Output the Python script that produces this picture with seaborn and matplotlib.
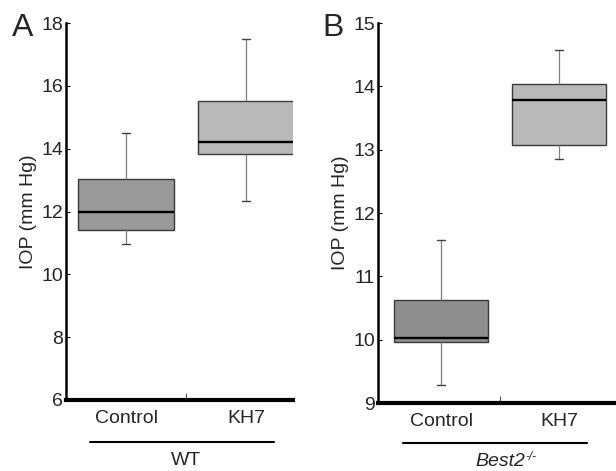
import numpy as np
import pandas as pd
import seaborn as sns
import matplotlib.pyplot as plt
import matplotlib.transforms as mtransforms

# five-number summaries: low whisker, Q1, median, Q3, high whisker
groups = ['Control', 'KH7']
wt_control = [10.97, 11.41, 11.97, 13.03, 14.51]
wt_kh7 = [12.33, 13.84, 14.21, 15.52, 17.5]
best2_control = [9.28, 9.96, 10.03, 10.62, 11.58]
best2_kh7 = [12.86, 13.08, 13.78, 14.04, 14.57]

sns.set_theme(style='white')
plt.rcParams['font.family'] = ['Liberation Sans', 'DejaVu Sans']

FS = 14

fig = plt.figure(figsize=(6.16, 4.71), dpi=100)
ax_a = fig.add_axes([66 / 616, 71 / 471, 227 / 616, 377 / 471])
ax_b = fig.add_axes([378 / 616, 68 / 471, 238 / 616, 380 / 471])


def draw_panel(ax, control, kh7, colors, ylim, yticks, xlim, line_x, line_y):
    df = pd.DataFrame({
        'group': [groups[0]] * len(control) + [groups[1]] * len(kh7),
        'iop': control + kh7,
    })
    sns.boxplot(data=df, x='group', y='iop', hue='group', palette=colors, legend=False,
                whis=(0, 100), width=0.8, ax=ax, linecolor='#3a3a3a', linewidth=1.0,
                whiskerprops={'color': '#808080', 'linewidth': 0.9},
                capprops={'color': '#404040', 'linewidth': 1.0},
                medianprops={'color': 'black', 'linewidth': 1.7},
                capwidths=0.07)
    ax.set_ylim(*ylim)
    ax.set_xlim(*xlim)
    ax.set_yticks(yticks)
    ax.set_yticklabels([str(t) for t in yticks])
    ax.set_xticks([0, 1])
    ax.set_xticklabels(groups)
    ax.set_xticks([0.5], minor=True)
    ax.tick_params(axis='x', which='major', length=0, pad=7, labelsize=FS)
    ax.tick_params(axis='x', which='minor', direction='in', length=5, width=0.8,
                   bottom=True, color='#555555')
    ax.tick_params(axis='y', direction='in', length=3, width=0.8, left=True, pad=2,
                   labelsize=FS, color='black')
    ax.set_xlabel('')
    ax.set_ylabel('IOP (mm Hg)', fontsize=FS, labelpad=3)
    for side in ['top', 'right']:
        ax.spines[side].set_visible(False)
    ax.spines['left'].set_linewidth(1.8)
    ax.spines['left'].set_color('black')
    ax.spines['bottom'].set_linewidth(3.0)
    ax.spines['bottom'].set_color('black')

    trans = mtransforms.blended_transform_factory(ax.transData, ax.transAxes)
    ax.plot(line_x, [line_y, line_y], color='black', linewidth=1.5,
            transform=trans, clip_on=False)
    return trans


trans_a = draw_panel(ax_a, wt_control, wt_kh7, ['#999999', '#b9b9b9'], (6, 18),
                     [6, 8, 10, 12, 14, 16, 18], (-0.5, 1.39), [-0.3, 1.23], -0.111)
trans_b = draw_panel(ax_b, best2_control, best2_kh7, ['#8e8e8e', '#b9b9b9'], (9, 15),
                     [9, 10, 11, 12, 13, 14, 15], (-0.534, 1.483), [-0.32, 1.24], -0.105)

ax_a.text(0.5, -0.16, 'WT', transform=trans_a, ha='center', va='center', fontsize=FS)
gene = ax_b.text(0.5, -0.155, 'Best2', transform=trans_b, ha='center', va='center',
                 fontsize=FS, style='italic')
ax_b.annotate('-/-', xy=(1.0, 1.0), xycoords=gene, xytext=(0.5, 1.5), textcoords='offset points',
              ha='left', va='top', fontsize=8.5, style='italic')

fig.text(23 / 616, 1 - 28 / 471, 'A', fontsize=23, ha='center', va='center')
fig.text(333 / 616, 1 - 28 / 471, 'B', fontsize=23, ha='center', va='center')

fig.savefig('out.png', dpi=100, facecolor='white')
